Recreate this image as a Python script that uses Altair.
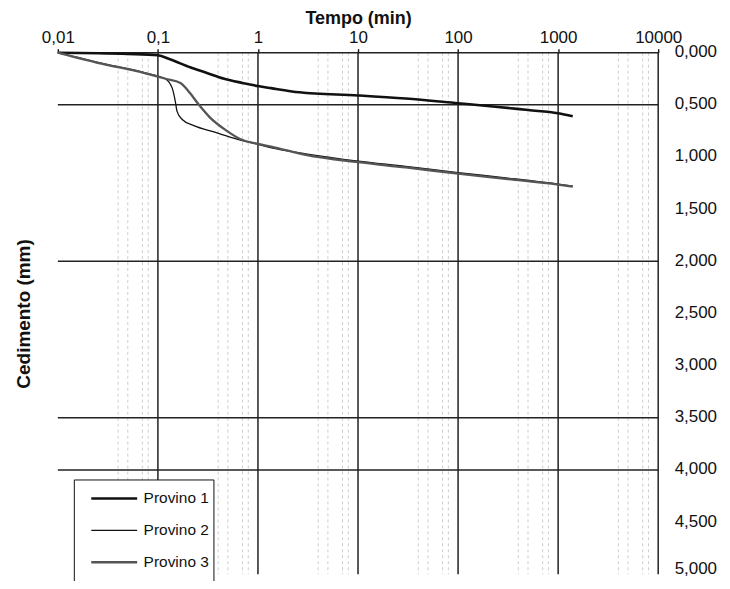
import altair as alt
import pandas as pd

FONT = "Liberation Sans"

# ---- data ----
series = ["Provino 1", "Provino 2", "Provino 3"]

t1 = [0.01, 0.05, 0.1, 0.13, 0.21, 0.3, 0.46, 0.7, 1, 1.35, 2.6, 10, 30, 100, 250, 500, 1000, 1400]
s1 = [0.0, 0.012, 0.025, 0.06, 0.14, 0.19, 0.25, 0.29, 0.32, 0.34, 0.38, 0.41, 0.44, 0.485, 0.52, 0.55, 0.58, 0.61]

t2 = [0.01, 0.03, 0.06, 0.1, 0.119, 0.139, 0.15, 0.155, 0.175, 0.229, 0.363, 0.625, 0.92, 1.5, 3, 10, 30, 100, 300, 1000, 1400]
s2 = [0.0, 0.11, 0.17, 0.225, 0.25, 0.34, 0.48, 0.56, 0.64, 0.70, 0.76, 0.83, 0.87, 0.92, 0.97, 1.04, 1.09, 1.15, 1.20, 1.26, 1.28]

t3 = [0.01, 0.03, 0.06, 0.1, 0.119, 0.168, 0.21, 0.257, 0.33, 0.49, 0.67, 0.95, 1.35, 3, 10, 30, 100, 300, 1000, 1400]
s3 = [0.0, 0.115, 0.175, 0.23, 0.25, 0.29, 0.39, 0.50, 0.62, 0.75, 0.83, 0.87, 0.90, 0.98, 1.05, 1.10, 1.16, 1.21, 1.265, 1.285]

x_ticks = [0.01, 0.1, 1, 10, 100, 1000, 10000]
y_ticks = [0, 0.5, 1, 1.5, 2, 2.5, 3, 3.5, 4, 4.5, 5]
decades = [0.1, 1, 10, 100, 1000, 10000]
minor_steps = [4, 5, 7, 8]
h_grid = [0, 0.5, 2, 3.5, 4]

minor = [k * d for d in [0.01, 0.1, 1, 10, 100, 1000] for k in minor_steps]

rows = []
for name, ts, ss in zip(series, [t1, t2, t3], [s1, s2, s3]):
    for i, (t, s) in enumerate(zip(ts, ss)):
        rows.append({"p": name, "t": t, "s": s, "i": i})
df = pd.DataFrame(rows)

xscale = alt.Scale(type="log", domain=[0.01, 10000], nice=False)
yscale = alt.Scale(domain=[0, 5], reverse=True, nice=False, zero=False)

xaxis = alt.Axis(
    orient="top", values=x_ticks, title="Tempo (min)",
    labelExpr="datum.value < 1 ? replace(format(datum.value, '~g'), '.', ',') : format(datum.value, 'd')",
    grid=False, domain=False, ticks=True, tickSize=4, tickColor="#111", tickWidth=1.4,
    labelPadding=2, labelFontSize=17, labelColor="#111", labelFont=FONT,
    titleFont=FONT, titleFontSize=18, titleFontWeight="bold", titleColor="#111",
    titlePadding=1, labelFlush=False, labelOverlap=False,
)

left_axis = alt.Axis(
    orient="left", title="Cedimento (mm)", labels=False, ticks=False, domain=False,
    grid=False, titleFont=FONT, titleFontSize=19, titleFontWeight="bold",
    titleColor="#111", titlePadding=24,
)

right_axis = alt.Axis(
    orient="right", values=y_ticks, title=None, ticks=False, domain=False, grid=False,
    labelExpr="replace(format(datum.value, '.3f'), '.', ',')",
    labelPadding=16, labelFontSize=17, labelColor="#111", labelFont=FONT,
    labelOffset={"condition": {"test": "datum.value >= 5", "value": -6}, "value": -1},
)

legend = alt.Legend(
    title=None, orient="none", legendX=16, legendY=428,
    strokeColor="#111", fillColor="white", padding=4,
    symbolType="stroke", symbolSize=2116, clipHeight=30, rowPadding=2,
    symbolOffset=12, labelOffset=5,
    labelFontSize=15.5, labelFont=FONT, labelColor="#111",
)

minor_layer = alt.Chart(pd.DataFrame({"t": minor})).mark_rule(
    color="#c0c0c0", strokeWidth=0.8, strokeDash=[3, 3]
).encode(x=alt.X("t:Q", scale=xscale, axis=xaxis))

decade_layer = alt.Chart(pd.DataFrame({"t": decades})).mark_rule(
    color="#111", strokeWidth=1.4
).encode(x=alt.X("t:Q", scale=xscale, axis=xaxis))

hgrid_layer = alt.Chart(pd.DataFrame({"s": h_grid})).mark_rule(
    color="#222", strokeWidth=1.5
).encode(y=alt.Y("s:Q", scale=yscale, axis=left_axis))

lines = alt.Chart(df).mark_line(interpolate="monotone").encode(
    x=alt.X("t:Q", scale=xscale, axis=xaxis),
    y=alt.Y("s:Q", scale=yscale, axis=right_axis),
    color=alt.Color("p:N", scale=alt.Scale(type="ordinal", domain=series, range=["#111111", "#111111", "#555555"]), legend=legend),
    strokeWidth=alt.StrokeWidth("p:N", scale=alt.Scale(type="ordinal", domain=series, range=[2.6, 1.3, 2.3]), legend=legend),
    order="i:Q",
)

chart = alt.layer(minor_layer, decade_layer, hgrid_layer, lines).resolve_axis(
    y="independent"
).properties(
    width=602, height=523,
    padding={"left": 50, "top": 44, "right": 64, "bottom": 6},
    autosize=alt.AutoSizeParams(type="none"),
).configure(font=FONT).configure_view(stroke=None)

chart.save("out.html", embed_options={"renderer": "svg", "actions": False})
